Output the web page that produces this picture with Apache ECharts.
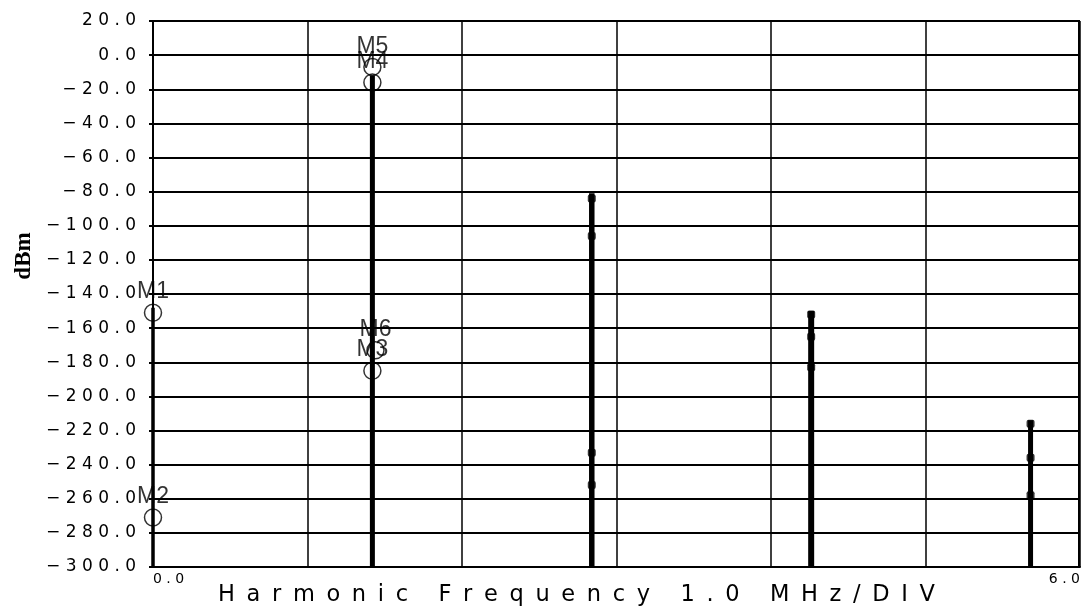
<!DOCTYPE html>
<html><head><meta charset="utf-8">
<script src="https://cdn.jsdelivr.net/npm/echarts@6/dist/echarts.min.js"></script>
<style>html,body{margin:0;padding:0;background:#fff}#c{width:1084px;height:616px}</style>
</head><body><div id="c"></div>
<script>
// ---- data ----
const yMin = -300, yMax = 20, yStep = 20;
const xMin = 0, xMax = 6, xStep = 1;
const xTickLabels = ['0.0', '6.0'];
const stemFreqs = [0, 1.42, 2.84, 4.26, 5.68];
const stemTops = [-148, -12, -81, -150, -214];
const markerNames = ['M1', 'M2', 'M3', 'M4', 'M5', 'M6'];
const markerFreqs = [0, 0, 1.42, 1.42, 1.42, 1.44];
const markerLevels = [-151, -271, -185, -16, -7, -173];
const spurFreqs = [2.84, 2.84, 2.84, 2.84, 4.26, 4.26, 4.26, 5.68, 5.68, 5.68];
const spurLevels = [-84, -106, -233, -252, -152, -165, -183, -216, -236, -258];
const xTitle = 'Harmonic Frequency 1.0 MHz/DIV';
const yTitle = 'dBm';

// ---- style ----
const stemWidths = [3.5, 5, 5.5, 6, 5];
function spaced(s, sep) { return s.split('').join(sep); }

const chart = echarts.init(document.getElementById('c'), null, {renderer: 'canvas'});
chart.setOption({
  animation: false,
  backgroundColor: '#fff',
  grid: {left: 153, right: 4, top: 21, bottom: 49, containLabel: false},
  xAxis: {
    type: 'value', min: xMin, max: xMax, interval: xStep,
    axisLine: {show: true, onZero: false, lineStyle: {color: '#000', width: 2}},
    axisTick: {show: false},
    splitLine: {show: true, lineStyle: {color: '#000', width: 1.5}},
    axisLabel: {
      show: true, margin: 5, color: '#000', fontSize: 14,
      fontFamily: 'DejaVu Sans',
      alignMinLabel: 'left', alignMaxLabel: 'right',
      formatter: v => v === xMin ? spaced(xTickLabels[0], ' ') : (v === xMax ? spaced(xTickLabels[1], ' ') : '')
    }
  },
  yAxis: {
    type: 'value', min: yMin, max: yMax, interval: yStep,
    axisLine: {show: true, onZero: false, lineStyle: {color: '#000', width: 2}},
    axisTick: {show: true, length: 4, inside: false, lineStyle: {color: '#000', width: 2}},
    splitLine: {show: true, lineStyle: {color: '#000', width: 2}},
    axisLabel: {
      margin: 17, color: '#000', fontSize: 17, fontFamily: 'DejaVu Sans',
      formatter: v => spaced(v.toFixed(1).replace('-', '\u2212'), ' ')
    }
  },
  graphic: [
    {type: 'rect', shape: {x: 1079, y: 21, width: 0, height: 546}, style: {stroke: '#000', lineWidth: 2, fill: 'none'}, z: 5},
    {type: 'text', left: 218, top: 584, z: 10,
      style: {text: spaced(xTitle, ' \u2009'), fill: '#000', fontSize: 22.5, fontFamily: 'DejaVu Sans'}},
    {type: 'text', x: 24, y: 256, rotation: Math.PI / 2, z: 10,
      style: {text: yTitle, fill: '#000', fontSize: 23, fontWeight: 'bold', fontFamily: 'Liberation Serif', align: 'center', verticalAlign: 'middle'}}
  ],
  series: [
    {
      type: 'custom', z: 3, clip: false,
      data: stemFreqs.map((f, i) => [f, stemTops[i]]),
      renderItem: (params, api) => {
        const p0 = api.coord([api.value(0), yMin]);
        const p1 = api.coord([api.value(0), api.value(1)]);
        return {type: 'line', shape: {x1: p0[0], y1: p0[1], x2: p1[0], y2: p1[1]},
          style: {stroke: '#000', lineWidth: stemWidths[params.dataIndex], lineCap: 'butt'}};
      }
    },
    {
      type: 'scatter', z: 4,
      data: spurFreqs.map((f, i) => [f, spurLevels[i]]),
      symbol: 'roundRect', symbolSize: [8, 8],
      itemStyle: {color: '#000'}
    },
    {
      type: 'scatter', z: 6,
      data: markerFreqs.map((f, i) => ({name: markerNames[i], value: [f, markerLevels[i]]})),
      symbol: 'circle', symbolSize: 17,
      itemStyle: {color: 'rgba(0,0,0,0)', borderColor: '#000', borderWidth: 1.5},
      label: {show: true, position: 'top', distance: 0, formatter: p => p.name,
        color: '#000', fontSize: 23, fontFamily: 'Liberation Sans'}
    }
  ]
});
</script>
</body></html>
